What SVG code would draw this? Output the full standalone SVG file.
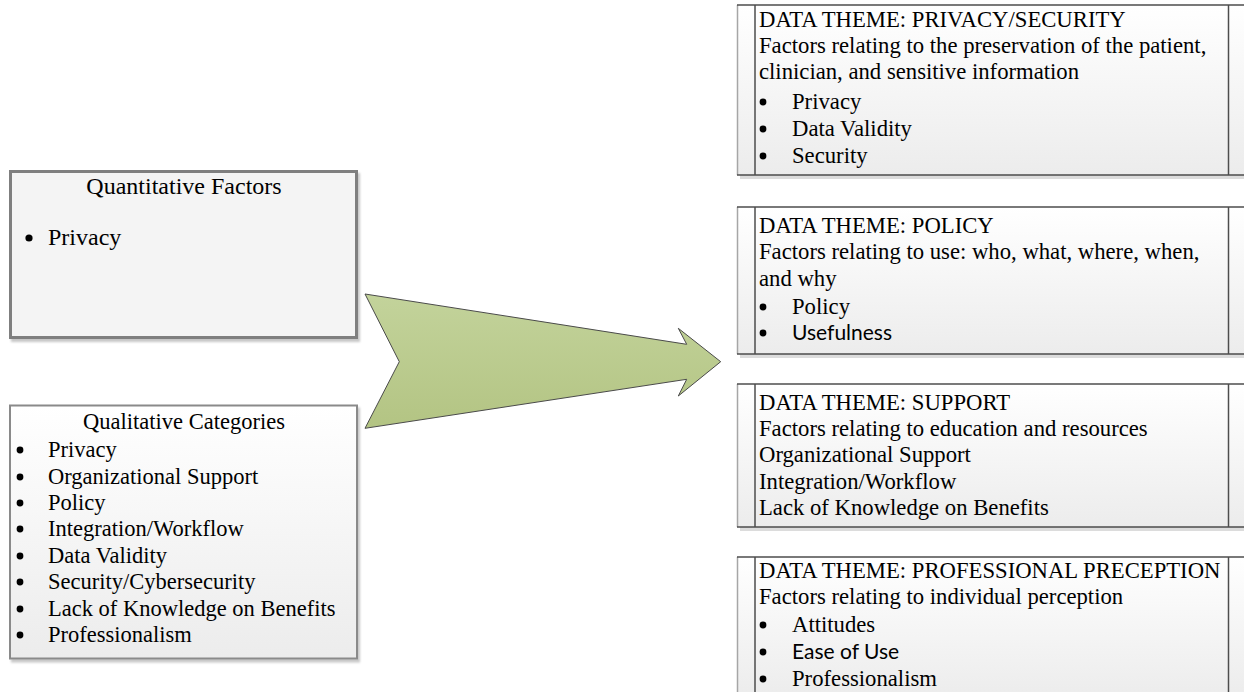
<svg xmlns="http://www.w3.org/2000/svg" width="1244" height="692" viewBox="0 0 1244 692">
<defs>
<linearGradient id="gBox" x1="0" y1="0" x2="0" y2="1">
<stop offset="0" stop-color="#ffffff"/>
<stop offset="1" stop-color="#ececec"/>
</linearGradient>
<linearGradient id="gArrow" x1="0" y1="0" x2="0" y2="1">
<stop offset="0" stop-color="#c3d39b"/>
<stop offset="1" stop-color="#b3c483"/>
</linearGradient>
<filter id="sh" x="-5%" y="-5%" width="112%" height="115%">
<feDropShadow dx="2" dy="3" stdDeviation="1.2" flood-color="#000" flood-opacity="0.22"/>
</filter>
</defs>
<style>
text{font-family:"Liberation Serif","Times New Roman",serif;font-size:22.7px;fill:#000}
.q{font-size:24px}
.ql{font-size:22.5px}
.sans{font-family:"Lato","Carlito","Liberation Sans",sans-serif;font-size:21px}
.mid{text-anchor:middle}
.frame{stroke:#4d4d4d;stroke-width:1.5;fill:none}
.lite{stroke:#a6a6a6;stroke-width:1.5;fill:none}
.bul{fill:#000}
</style>
<rect width="1244" height="692" fill="#ffffff"/>

<g id="quantitative">
<rect x="10.5" y="171.5" width="346" height="166" fill="#f4f4f4" stroke="#7f7f7f" stroke-width="3" filter="url(#sh)"/>
<text x="184" y="194" class="mid q">Quantitative Factors</text>
<circle class="bul" cx="29" cy="238" r="3.6"/>
<text x="48" y="245" class="q">Privacy</text>
</g>

<g id="qualitative">
<rect x="10" y="405.5" width="347" height="253" fill="url(#gBox)" stroke="#8a8a8a" stroke-width="2" filter="url(#sh)"/>
<text x="184" y="429" class="mid ql">Qualitative Categories</text>
<g class="bul">
<circle cx="20" cy="450" r="3.4"/>
<circle cx="20" cy="477" r="3.4"/>
<circle cx="20" cy="503" r="3.4"/>
<circle cx="20" cy="529" r="3.4"/>
<circle cx="20" cy="556" r="3.4"/>
<circle cx="20" cy="582" r="3.4"/>
<circle cx="20" cy="609" r="3.4"/>
<circle cx="20" cy="635" r="3.4"/>
</g>
<text x="48" y="457" class="ql">Privacy</text>
<text x="48" y="484" class="ql">Organizational Support</text>
<text x="48" y="510" class="ql">Policy</text>
<text x="48" y="536" class="ql">Integration/Workflow</text>
<text x="48" y="563" class="ql">Data Validity</text>
<text x="48" y="589" class="ql">Security/Cybersecurity</text>
<text x="48" y="616" class="ql">Lack of Knowledge on Benefits</text>
<text x="48" y="642" class="ql">Professionalism</text>
</g>

<g id="connectors">
<path d="M365,294 L686.7,344.3 L678.3,328.3 L720.7,361.7 L678.3,396 L686.7,379.3 L365,428.3 L399.3,361.7 Z" fill="url(#gArrow)" stroke="#4a4a4a" stroke-width="1" stroke-linejoin="miter"/>
</g>

<g id="theme-privacy">
<rect x="740" y="175" width="510" height="4" fill="#dcdcdc"/>
<rect x="737" y="5" width="513" height="170" fill="url(#gBox)"/>
<line class="lite" x1="737.5" y1="5" x2="737.5" y2="175"/>
<line class="frame" x1="737" y1="5" x2="1250" y2="5"/>
<line class="frame" x1="737" y1="175" x2="1250" y2="175"/>
<line class="frame" x1="755" y1="5" x2="755" y2="175"/>
<line class="frame" x1="1228.5" y1="5" x2="1228.5" y2="175"/>
<text x="759" y="27">DATA THEME: PRIVACY/SECURITY</text>
<text x="759" y="53">Factors relating to the preservation of the patient,</text>
<text x="759" y="79">clinician, and sensitive information</text>
<circle class="bul" cx="763" cy="102" r="3.4"/>
<circle class="bul" cx="763" cy="129" r="3.4"/>
<circle class="bul" cx="763" cy="156" r="3.4"/>
<text x="792" y="109">Privacy</text>
<text x="792" y="136">Data Validity</text>
<text x="792" y="163">Security</text>
</g>

<g id="theme-policy">
<rect x="740" y="354" width="510" height="4" fill="#dcdcdc"/>
<rect x="737" y="207" width="513" height="147" fill="url(#gBox)"/>
<line class="lite" x1="737.5" y1="207" x2="737.5" y2="354"/>
<line class="frame" x1="737" y1="207" x2="1250" y2="207"/>
<line class="frame" x1="737" y1="354" x2="1250" y2="354"/>
<line class="frame" x1="755" y1="207" x2="755" y2="354"/>
<line class="frame" x1="1228.5" y1="207" x2="1228.5" y2="354"/>
<text x="759" y="233">DATA THEME: POLICY</text>
<text x="759" y="259">Factors relating to use: who, what, where, when,</text>
<text x="759" y="286">and why</text>
<circle class="bul" cx="763" cy="307" r="3.4"/>
<circle class="bul" cx="763" cy="333" r="3.4"/>
<text x="792" y="314">Policy</text>
<text x="792" y="340" class="sans">Usefulness</text>
</g>

<g id="theme-support">
<rect x="740" y="527" width="510" height="4" fill="#dcdcdc"/>
<rect x="737" y="384" width="513" height="143" fill="url(#gBox)"/>
<line class="lite" x1="737.5" y1="384" x2="737.5" y2="527"/>
<line class="frame" x1="737" y1="384" x2="1250" y2="384"/>
<line class="frame" x1="737" y1="527" x2="1250" y2="527"/>
<line class="frame" x1="755" y1="384" x2="755" y2="527"/>
<line class="frame" x1="1228.5" y1="384" x2="1228.5" y2="527"/>
<text x="759" y="410">DATA THEME: SUPPORT</text>
<text x="759" y="436">Factors relating to education and resources</text>
<text x="759" y="462">Organizational Support</text>
<text x="759" y="489">Integration/Workflow</text>
<text x="759" y="515">Lack of Knowledge on Benefits</text>
</g>

<g id="theme-perception">
<rect x="737" y="557" width="513" height="140" fill="url(#gBox)"/>
<line class="lite" x1="737.5" y1="557" x2="737.5" y2="692"/>
<line class="frame" x1="737" y1="557" x2="1250" y2="557"/>
<line class="frame" x1="755" y1="557" x2="755" y2="692"/>
<line class="frame" x1="1228.5" y1="557" x2="1228.5" y2="692"/>
<text x="759" y="578">DATA THEME: PROFESSIONAL PRECEPTION</text>
<text x="759" y="604">Factors relating to individual perception</text>
<circle class="bul" cx="763" cy="625" r="3.4"/>
<circle class="bul" cx="763" cy="652" r="3.4"/>
<circle class="bul" cx="763" cy="679" r="3.4"/>
<text x="792" y="632">Attitudes</text>
<text x="792" y="659" class="sans">Ease of Use</text>
<text x="792" y="686">Professionalism</text>
</g>
</svg>
